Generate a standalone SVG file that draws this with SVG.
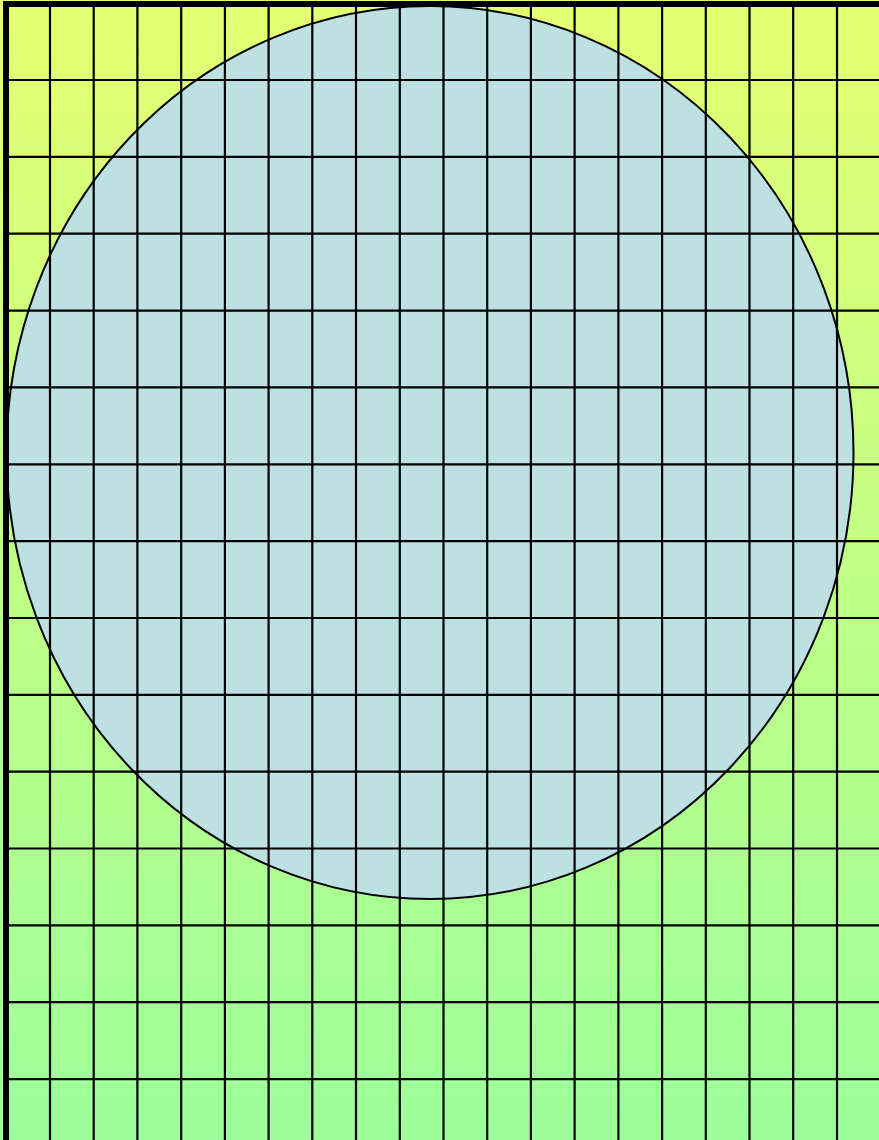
<svg xmlns="http://www.w3.org/2000/svg" width="879" height="1140" viewBox="0 0 879 1140">
<defs>
<linearGradient id="bg" x1="0" y1="0" x2="0" y2="1">
<stop offset="0" stop-color="#e5ff72"/>
<stop offset="1" stop-color="#9cff9b"/>
</linearGradient>
</defs>
<style>
.g{stroke:#000;stroke-width:2.2;fill:none}
.b{stroke:#000;stroke-width:6;fill:none}
</style>
<rect x="0" y="0" width="879" height="1140" fill="url(#bg)"/>
<ellipse id="circle" cx="430" cy="452.5" rx="423.5" ry="446.5" fill="#bde0e3" stroke="#000" stroke-width="2"/>
<g id="grid" class="g">
<path d="M50 4V1140M93.7 4V1140M137.4 4V1140M181.2 4V1140M224.9 4V1140M268.6 4V1140M312.3 4V1140M356 4V1140M399.8 4V1140M443.5 4V1140M487.2 4V1140M530.9 4V1140M574.6 4V1140M618.4 4V1140M662.1 4V1140M705.8 4V1140M749.5 4V1140M793.2 4V1140M837 4V1140"/>
<path d="M6 80H879M6 156.9H879M6 233.7H879M6 310.6H879M6 387.4H879M6 464.3H879M6 541.1H879M6 618H879M6 694.8H879M6 771.7H879M6 848.5H879M6 925.4H879M6 1002.2H879M6 1079.1H879"/>
</g>
<g id="border" class="b">
<path d="M3 4H879"/>
<path d="M6 1V1140"/>
</g>
</svg>
